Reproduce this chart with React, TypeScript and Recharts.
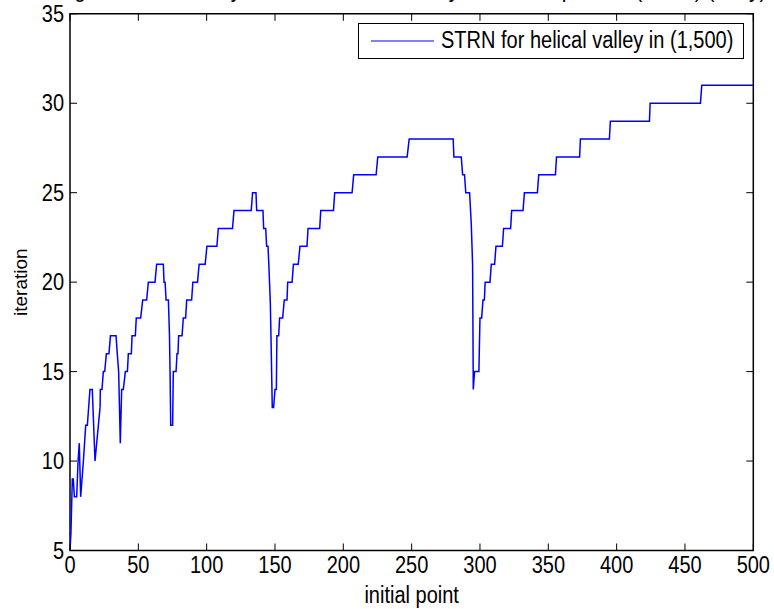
import React from 'react';
import { LineChart, Line, XAxis, YAxis, Legend, ReferenceArea } from 'recharts';

// ---- data ----
const pointX = [
  0, 0.7, 1.7, 2.4, 3.2, 4.9, 5.9, 6.8, 7.8, 9.8, 11.5, 12.7, 14.6, 16.3, 18.3, 22, 22.2, 23.4, 24.4, 25.4,
  26.6, 28.5, 29.6, 33.7, 34.6, 35.6, 36.8, 37.8, 39, 40.5, 42, 42.7, 44.9, 45.4, 47.8, 48.5, 51.7, 53.2, 56.1, 57.3,
  62.2, 63.4, 68.3, 68.8, 69.6, 70.3, 72, 72.8, 73.3, 73.7, 75.1, 75.6, 77.6, 78.3, 79, 79.5, 82, 82.9, 84.6, 85.4,
  89, 89.9, 93.3, 94.5, 98.9, 100.2, 107.5, 108.5, 118.9, 120, 132.6, 133.6, 136.1, 136.6, 141.2, 141.7, 143.2, 143.9, 144.9, 145.6,
  146.6, 147.3, 148, 149, 150, 151, 151.4, 152.7, 153.4, 155.6, 156.8, 158.8, 159.3, 162.5, 163.5, 167, 168.3, 173.4, 174.2, 182.7,
  183.5, 192.8, 193.7, 206.4, 207.6, 224, 225.2, 246.7, 248.2, 280.4, 280.9, 286.3, 287.3, 288.7, 289.6, 292.4, 293.6, 294.6, 295.1, 296,
  299.2, 300, 301.2, 302.2, 303.2, 303.8, 307.3, 308.3, 310.7, 311.7, 316.4, 317.3, 322.4, 323.2, 331.5, 332.5, 342, 343, 355.2, 356,
  372.9, 373.5, 394.7, 395.4, 424, 424.5, 461.3, 462.3, 500,
];
const iterations = [
  5, 6, 9, 9, 8, 8, 10, 11, 8, 10, 12, 12, 14, 14, 10, 13, 14, 14, 15, 15,
  16, 16, 17, 17, 16, 15, 11, 14, 14, 15, 15, 16, 16, 17, 17, 18, 18, 19, 19, 20,
  20, 21, 21, 20, 20, 19, 19, 17, 14.5, 12, 12, 15, 15, 16, 16, 17, 17, 18, 18, 19,
  19, 20, 20, 21, 21, 22, 22, 23, 23, 24, 24, 25, 25, 24, 24, 23, 23, 22, 22, 20.8,
  18.8, 16, 13, 13, 14, 14, 17, 17, 18, 18, 19, 19, 20, 20, 21, 21, 22, 22, 23, 23,
  24, 24, 25, 25, 26, 26, 27, 27, 28, 28, 27, 27, 26, 26, 25, 25, 23.3, 21, 14, 15,
  15, 18, 18, 19, 19, 20, 20, 21, 21, 22, 22, 23, 23, 24, 24, 25, 25, 26, 26, 27,
  27, 28, 28, 29, 29, 30, 30, 31, 31,
];
const xTicks = [0, 50, 100, 150, 200, 250, 300, 350, 400, 450, 500];
const yTicks = [5, 10, 15, 20, 25, 30, 35];
const seriesName = 'STRN for helical valley in (1,500)';
const xLabel = 'initial point';
const yLabel = 'iteration';
const titleText = 'Figure: iterations by STRN for helical valley with initial point in (1,500) (x = y)';

const data = pointX.map((x, i) => ({ x, y: iterations[i] }));

// ---- layout ----
const W = 774;
const H = 609;
const PLOT_LEFT = 70;
const PLOT_RIGHT = 753.3;
const PLOT_TOP = 13.8;
const PLOT_BOTTOM = 550.5;
const PLOT_W = PLOT_RIGHT - PLOT_LEFT;
const PLOT_H = PLOT_BOTTOM - PLOT_TOP;
const FONT = '"Liberation Sans", Arial, Helvetica, sans-serif';
const FS = 20;
const SY = 1.15;
const TICK = 7;

const BottomTick = (props: any) => {
  const { x, y, payload } = props;
  return (
    <g>
      <line x1={x} x2={x} y1={y} y2={y - TICK} stroke="#000" strokeWidth={1} />
      <line x1={x} x2={x} y1={y - PLOT_H} y2={y - PLOT_H + TICK} stroke="#000" strokeWidth={1} />
      <text
        transform={`translate(${x},${y + 22}) scale(1,${SY})`}
        textAnchor="middle"
        fontSize={FS}
        fontFamily={FONT}
        fill="#000"
      >
        {payload.value}
      </text>
    </g>
  );
};

const LeftTick = (props: any) => {
  const { x, y, payload } = props;
  return (
    <g>
      <line x1={x} x2={x + TICK} y1={y} y2={y} stroke="#000" strokeWidth={1} />
      <line x1={x + PLOT_W} x2={x + PLOT_W - TICK} y1={y} y2={y} stroke="#000" strokeWidth={1} />
      <text
        transform={`translate(${x - 6},${y + 8}) scale(1,${SY})`}
        textAnchor="end"
        fontSize={FS}
        fontFamily={FONT}
        fill="#000"
      >
        {payload.value}
      </text>
    </g>
  );
};

const LegendBox = () => (
  <div
    style={{
      boxSizing: 'border-box',
      width: 386,
      height: 36,
      border: '1.5px solid #000',
      background: '#fff',
      position: 'relative',
    }}
  >
    <svg width={70} height={34} style={{ position: 'absolute', left: 12, top: 0 }}>
      <line x1={0} x2={63} y1={17} y2={17} stroke="#0000ff" strokeWidth={1.2} />
    </svg>
    <div
      style={{
        position: 'absolute',
        left: 82,
        top: 4,
        fontFamily: FONT,
        fontSize: 20,
        lineHeight: '24px',
        whiteSpace: 'nowrap',
        color: '#000',
        transform: `scaleY(${SY})`,
        transformOrigin: 'left center',
      }}
    >
      {seriesName}
    </div>
  </div>
);

export default function App() {
  return (
    <div style={{ position: 'absolute', left: 0, top: 0, width: W, height: H, background: '#fff' }}>
      <LineChart
        width={W}
        height={H}
        data={data}
        margin={{ top: PLOT_TOP, right: W - PLOT_RIGHT, bottom: H - PLOT_BOTTOM - 40, left: PLOT_LEFT - 60 }}
      >
        <XAxis
          dataKey="x"
          type="number"
          domain={[0, 500]}
          ticks={xTicks}
          allowDataOverflow
          height={40}
          tickSize={0}
          tickMargin={0}
          tickLine={false}
          axisLine={false}
          tick={<BottomTick />}
          interval={0}
        />
        <YAxis
          type="number"
          domain={[5, 35]}
          ticks={yTicks}
          allowDataOverflow
          width={60}
          tickSize={0}
          tickMargin={0}
          tickLine={false}
          axisLine={false}
          tick={<LeftTick />}
          interval={0}
        />
        <ReferenceArea x1={0} x2={500} y1={5} y2={35} stroke="#000" strokeWidth={1.5} fill="none" fillOpacity={0} ifOverflow="visible" />
        <Line
          dataKey="y"
          name={seriesName}
          type="linear"
          stroke="#0000ff"
          strokeWidth={1.5}
          dot={false}
          activeDot={false}
          isAnimationActive={false}
        />
        <Legend
          layout="horizontal"
          verticalAlign="middle"
          align="center"
          content={() => <LegendBox />}
          wrapperStyle={{ position: 'absolute', left: 358, top: 23, width: 386, height: 36 }}
        />
      </LineChart>
      <svg width={W} height={H} style={{ position: 'absolute', left: 0, top: 0, pointerEvents: 'none' }}>
        <text
          transform={`translate(${(PLOT_LEFT + PLOT_RIGHT) / 2},-3) scale(1,${SY})`}
          textAnchor="middle"
          fontSize={21}
          fontFamily={FONT}
          fill="#000"
        >
          {titleText}
        </text>
        <text
          transform={`translate(${(PLOT_LEFT + PLOT_RIGHT) / 2},603) scale(1,${SY})`}
          textAnchor="middle"
          fontSize={FS}
          fontFamily={FONT}
          fill="#000"
        >
          {xLabel}
        </text>
        <text
          transform={`translate(27,${(PLOT_TOP + PLOT_BOTTOM) / 2}) rotate(-90)`}
          textAnchor="middle"
          fontSize={19}
          fontFamily={FONT}
          fill="#000"
        >
          {yLabel}
        </text>
      </svg>
    </div>
  );
}
